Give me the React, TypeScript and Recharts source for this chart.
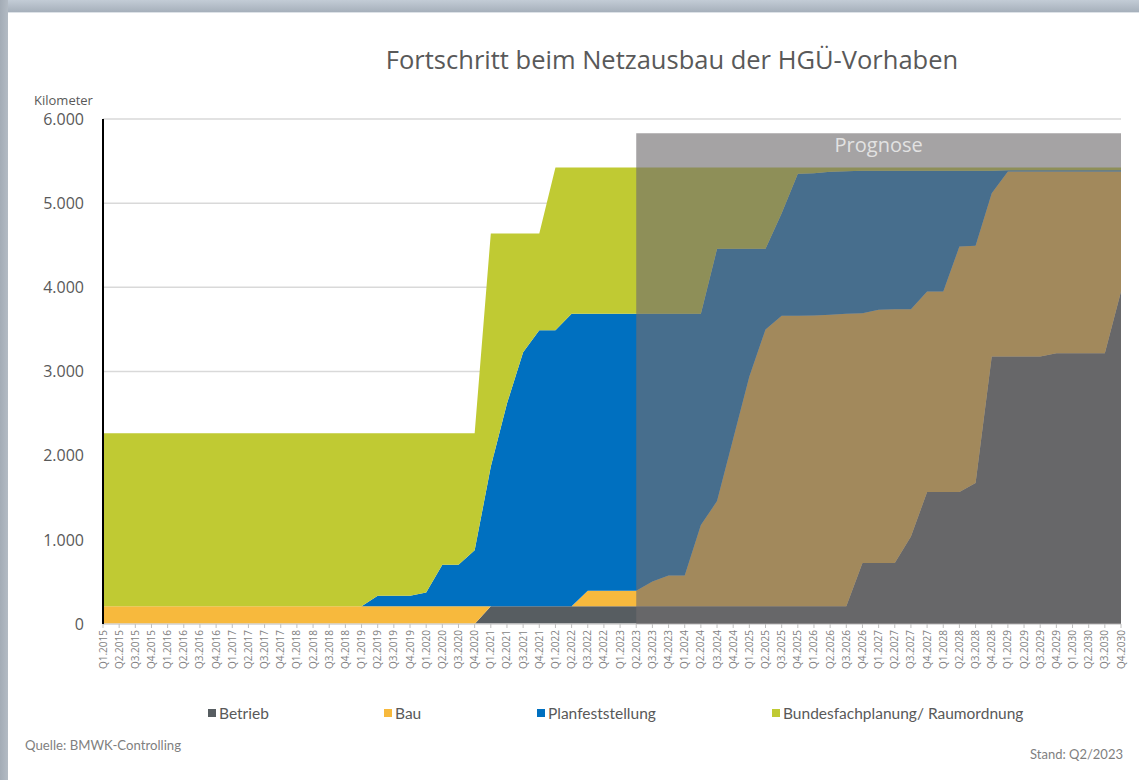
import React from 'react';
import { AreaChart, Area, XAxis, YAxis, CartesianGrid, ReferenceArea } from 'recharts';

const years = [2015, 2016, 2017, 2018, 2019, 2020, 2021, 2022, 2023, 2024, 2025, 2026, 2027, 2028, 2029, 2030];
const quarterNames = ['Q1', 'Q2', 'Q3', 'Q4'];
const quarters: string[] = [];
years.forEach((y) => quarterNames.forEach((q) => quarters.push(`${q}.${y}`)));

const betrieb = [
  0, 0, 0, 0, 0, 0, 0, 0, 0, 0, 0, 0, 0, 0, 0, 0, 0, 0, 0, 0, 0, 0, 0, 0,
  210, 210, 210, 210, 210, 210, 210, 210, 210, 210, 210, 210, 210, 210, 210, 210, 210, 210, 210, 210, 210, 210, 210,
  725, 725, 725, 1040, 1568, 1568, 1568, 1675, 3178, 3178, 3178, 3178, 3218, 3218, 3218, 3218, 3950,
];
const bau = [
  210, 210, 210, 210, 210, 210, 210, 210, 210, 210, 210, 210, 210, 210, 210, 210, 210, 210, 210, 210, 210, 210, 210, 210,
  0, 0, 0, 0, 0, 0, 185, 185, 185, 185, 296, 367, 367, 965, 1250, 1990, 2730, 3290, 3452, 3452, 3455, 3463, 3475,
  2968, 3008, 3015, 2701, 2382, 2382, 2917, 2818, 1941, 2197, 2197, 2197, 2157, 2157, 2157, 2157, 1425,
];
const planfeststellung = [
  0, 0, 0, 0, 0, 0, 0, 0, 0, 0, 0, 0, 0, 0, 0, 0, 0, 125, 125, 125, 165, 495, 495, 665,
  1660, 2410, 3020, 3280, 3280, 3475, 3290, 3290, 3290, 3290, 3179, 3108, 3108, 2510, 2997, 2257, 1517, 957, 1218, 1688, 1691, 1699, 1693,
  1692, 1652, 1645, 1644, 1435, 1435, 900, 892, 266, 15, 15, 15, 15, 15, 15, 15, 15,
];
const bundesfachplanung = [
  2055, 2055, 2055, 2055, 2055, 2055, 2055, 2055, 2055, 2055, 2055, 2055, 2055, 2055, 2055, 2055, 2055, 1930, 1930, 1930, 1890, 1560, 1560, 1390,
  2770, 2020, 1410, 1150, 1935, 1740, 1740, 1740, 1740, 1740, 1740, 1740, 1740, 1740, 968, 968, 968, 968, 545, 75, 69, 53, 47,
  40, 40, 40, 40, 40, 40, 40, 40, 40, 35, 35, 35, 35, 35, 35, 35, 35,
];
const yTicks = [0, 1000, 2000, 3000, 4000, 5000, 6000];
const prognoseStart = 'Q2.2023';
const prognoseEnd = 'Q4.2030';
const prognoseTop = 5830;

const series = [
  { key: 'betrieb', name: 'Betrieb', color: '#575d61' },
  { key: 'bau', name: 'Bau', color: '#f7b93d' },
  { key: 'plan', name: 'Planfeststellung', color: '#0070c0' },
  { key: 'bund', name: 'Bundesfachplanung/ Raumordnung', color: '#c0ca33' },
];

const data = quarters.map((q, i) => ({
  q,
  betrieb: betrieb[i],
  bau: bau[i],
  plan: planfeststellung[i],
  bund: bundesfachplanung[i],
}));

const fmt = (v: number) => String(v).replace(/\B(?=(\d{3})+(?!\d))/g, '.');

const XTick = (props: any) => {
  const { x, y, payload } = props;
  return (
    <text
      x={x}
      y={y}
      transform={`rotate(-90 ${x} ${y})`}
      textAnchor="end"
      dy={3.5}
      fontSize={10}
      fontFamily="Open Sans"
      fill="#7f7f7f"
    >
      {payload.value}
    </text>
  );
};

const legendPos = [208, 384, 537, 772];

export default function App() {
  return (
    <div style={{ position: 'absolute', left: 0, top: 0, width: 1139, height: 780, background: '#ffffff', overflow: 'hidden' }}>
      <div style={{ position: 'absolute', left: 0, top: 0, width: 1139, height: 12, background: 'linear-gradient(#c3ccd6, #a6b0bb)' }} />
      <div style={{ position: 'absolute', left: 0, top: 0, width: 8, height: 780, background: 'linear-gradient(90deg, #a3acb6, #b3bbc4)' }} />
      <div style={{ position: 'absolute', left: 8, top: 12, width: 1131, height: 1, background: '#dde2e7' }} />
      <div
        style={{
          position: 'absolute', left: 0, top: 42, width: 1344, textAlign: 'center',
          fontFamily: 'Open Sans', fontSize: 25.5, color: '#595959',
        }}
      >
        Fortschritt beim Netzausbau der HGÜ-Vorhaben
      </div>
      <div style={{ position: 'absolute', left: 34, top: 91, fontFamily: 'Open Sans', fontSize: 13, color: '#595959' }}>
        Kilometer
      </div>
      <div style={{ position: 'absolute', left: 0, top: 0 }}>
        <AreaChart width={1139} height={780} data={data} margin={{ top: 119, right: 18, bottom: 106, left: 0 }}>
          <CartesianGrid vertical={false} stroke="#d9d9d9" strokeWidth={1.5} />
          <XAxis
            dataKey="q"
            interval={0}
            tick={<XTick />}
            tickSize={4}
            tickMargin={2}
            height={50}
            axisLine={{ stroke: '#d9d9d9', strokeWidth: 1.5 }}
            tickLine={{ stroke: '#bfbfbf' }}
          />
          <YAxis
            domain={[0, 6000]}
            ticks={yTicks}
            width={103}
            tickFormatter={fmt}
            tickLine={false}
            tickSize={0}
            tickMargin={19}
            axisLine={{ stroke: '#000000', strokeWidth: 2 }}
            tick={{ fill: '#595959', fontSize: 16, fontFamily: 'Open Sans' }}
          />
          {series.map((s) => (
            <Area
              key={s.key}
              type="linear"
              dataKey={s.key}
              name={s.name}
              stackId="a"
              stroke="none"
              fill={s.color}
              fillOpacity={1}
              isAnimationActive={false}
              dot={false}
              activeDot={false}
            />
          ))}
          <ReferenceArea
            x1={prognoseStart}
            x2={prognoseEnd}
            y1={0}
            y2={prognoseTop}
            fill="#706e6f"
            fillOpacity={0.63}
            stroke="none"
            zIndex={1500}
            label={{ value: 'Prognose', position: 'insideTop', offset: 4, fill: '#e2e2e2', fontSize: 20, fontFamily: 'Open Sans' }}
          />
        </AreaChart>
      </div>
      {series.map((s, i) => (
        <div
          key={s.key}
          style={{
            position: 'absolute', left: legendPos[i], top: 704, display: 'flex', alignItems: 'center',
            fontFamily: 'Lato', fontSize: 15.5, color: '#595959', whiteSpace: 'nowrap',
          }}
        >
          <span style={{ display: 'inline-block', width: 8, height: 8, background: s.color, marginRight: 3 }} />
          {s.name}
        </div>
      ))}
      <div style={{ position: 'absolute', left: 25, top: 737, fontFamily: 'Lato', fontSize: 13.2, color: '#7f7f7f' }}>
        Quelle: BMWK-Controlling
      </div>
      <div style={{ position: 'absolute', left: 1030, top: 746, fontFamily: 'Lato', fontSize: 13, color: '#7f7f7f' }}>
        Stand: Q2/2023
      </div>
    </div>
  );
}
